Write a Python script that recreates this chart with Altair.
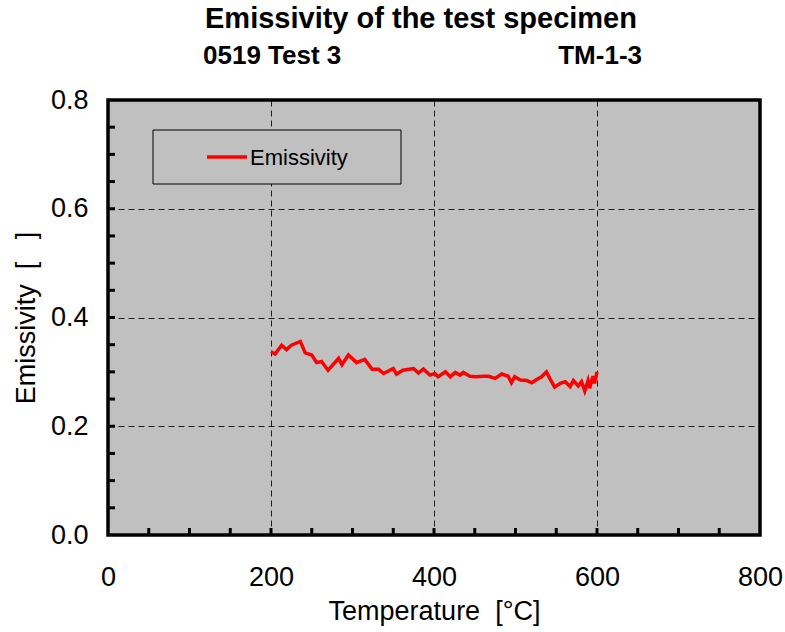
import altair as alt
import pandas as pd

temperature = [200, 205, 213, 219, 225, 236, 242, 250, 256, 262, 270, 283, 287, 295, 305,
               315, 324, 332, 338, 350, 354, 362, 375, 381, 387, 395, 401, 405, 414, 420,
               426, 432, 436, 444, 452, 460, 467, 475, 483, 491, 495, 499, 506, 514, 520,
               526, 532, 538, 542, 548, 555, 561, 567, 571, 577, 581, 585, 589, 591, 595,
               597, 600]
emissivity = [0.337, 0.333, 0.349, 0.341, 0.349, 0.356, 0.335, 0.331, 0.317, 0.319, 0.303,
              0.325, 0.313, 0.331, 0.317, 0.323, 0.305, 0.305, 0.297, 0.306, 0.296, 0.303,
              0.306, 0.298, 0.305, 0.294, 0.297, 0.291, 0.300, 0.291, 0.299, 0.294, 0.299,
              0.292, 0.291, 0.292, 0.292, 0.288, 0.296, 0.292, 0.280, 0.291, 0.285, 0.284,
              0.280, 0.286, 0.291, 0.300, 0.288, 0.272, 0.279, 0.282, 0.273, 0.284, 0.274,
              0.282, 0.265, 0.284, 0.270, 0.292, 0.279, 0.300]
x_major = [0, 200, 400, 600, 800]
y_major = [0.0, 0.2, 0.4, 0.6, 0.8]
x_minor = [50, 100, 150, 200, 250, 300, 350, 400, 450, 500, 550, 600, 650, 700, 750]
y_minor = [0.05, 0.1, 0.15, 0.2, 0.25, 0.3, 0.35, 0.4, 0.45, 0.5, 0.55, 0.6, 0.65, 0.7, 0.75]

FONT = "Liberation Sans"
W, H = 652, 435

df = pd.DataFrame({"T": temperature, "E": emissivity})
xs = alt.Scale(domain=[0, 800], nice=False)
ys = alt.Scale(domain=[0, 0.8], nice=False)

base_axis = dict(labelFont=FONT, titleFont=FONT, labelFontSize=27, titleFontSize=27,
                 titleFontWeight="normal", labelColor="black", titleColor="black",
                 tickSize=0, domain=False, gridColor="black", gridDash=[6, 4],
                 gridWidth=1, gridOpacity=0.85, labelFlush=False, labelOverlap=False)

line = alt.Chart(df).mark_line(color="#ff0000", strokeWidth=3.5).encode(
    x=alt.X("T:Q", scale=xs,
            axis=alt.Axis(values=x_major, title="Temperature\u00a0\u00a0[°C]", labelPadding=29,
                          titlePadding=8, **base_axis)),
    y=alt.Y("E:Q", scale=ys,
            axis=alt.Axis(values=y_major, format=".1f", title="Emissivity\u00a0\u00a0[\u00a0\u00a0\u00a0]",
                          labelPadding=20, titlePadding=10, **base_axis)),
)

xt = alt.Chart(pd.DataFrame({"v": x_minor})).mark_rule(color="black", strokeWidth=3).encode(
    x=alt.X("v:Q", scale=xs), y=alt.value(H), y2=alt.value(H - 7))
yt = alt.Chart(pd.DataFrame({"v": y_minor})).mark_rule(color="black", strokeWidth=3).encode(
    y=alt.Y("v:Q", scale=ys), x=alt.value(0), x2=alt.value(7))

leg_box = alt.Chart(pd.DataFrame({"a": [0]})).mark_rect(
    fill="#c0c0c0", stroke="black", strokeWidth=1).encode(
    x=alt.value(45), x2=alt.value(293), y=alt.value(30), y2=alt.value(84))
leg_line = alt.Chart(pd.DataFrame({"a": [0]})).mark_rule(color="#ff0000", strokeWidth=3.5).encode(
    x=alt.value(99), x2=alt.value(139), y=alt.value(57))
leg_text = alt.Chart(pd.DataFrame({"t": ["Emissivity"]})).mark_text(
    font=FONT, fontSize=22, align="left", baseline="middle", color="black").encode(
    x=alt.value(142), y=alt.value(58), text="t:N")

title = alt.Chart(pd.DataFrame({"t": ["Emissivity of the test specimen"]})).mark_text(
    font=FONT, fontSize=29, fontWeight="bold", align="center", baseline="alphabetic",
    color="black").encode(x=alt.value(313), y=alt.value(-72), text="t:N")
sub1 = alt.Chart(pd.DataFrame({"t": ["0519 Test 3"]})).mark_text(
    font=FONT, fontSize=26, fontWeight="bold", align="left", baseline="alphabetic",
    color="black").encode(x=alt.value(95), y=alt.value(-36), text="t:N")
sub2 = alt.Chart(pd.DataFrame({"t": ["TM-1-3"]})).mark_text(
    font=FONT, fontSize=26, fontWeight="bold", align="right", baseline="alphabetic",
    color="black").encode(x=alt.value(534), y=alt.value(-36), text="t:N")

chart = alt.layer(line, xt, yt, leg_box, leg_line, leg_text, title, sub1, sub2).properties(
    width=W, height=H,
    autosize=alt.AutoSizeParams(type="none"),
    padding={"left": 108, "top": 100, "right": 25, "bottom": 97},
    background="white",
).configure_view(fill="#c0c0c0", stroke="black", strokeWidth=3.5)

chart.save("out.html", embed_options={"renderer": "svg", "actions": False})
